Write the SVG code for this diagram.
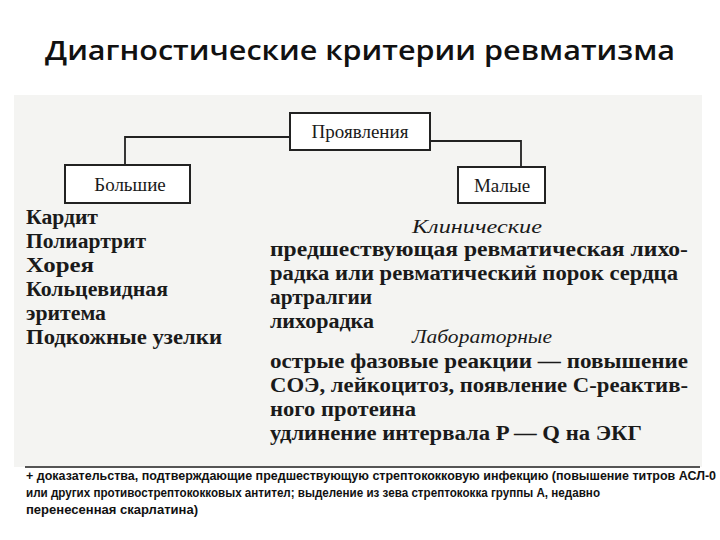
<svg xmlns="http://www.w3.org/2000/svg" width="720" height="540" viewBox="0 0 720 540">
<style>
.t{font-family:"Open Sans","DejaVu Sans",sans-serif;font-weight:600;font-size:27px;fill:#111}
.s{font-family:"Liberation Serif","DejaVu Serif",serif;fill:#1a1a1a}
.b{font-size:20px;font-weight:bold}
.m{font-size:19px}
.i{font-size:19px;font-style:italic}
.box{fill:#fff;stroke:#222;stroke-width:2}
.f{font-family:"Liberation Sans Narrow","Liberation Sans",sans-serif;font-size:12px;fill:#111;font-weight:bold}
</style>
<rect width="720" height="540" fill="#fff"/>
<rect x="14" y="95" width="688" height="372" fill="#f4f4f2"/>
<text class="t" x="45" y="60" textLength="630" lengthAdjust="spacingAndGlyphs">Диагностические критерии ревматизма</text>
<g id="connectors" fill="none" stroke="#222" stroke-width="1.8">
<polyline points="290,137 125,137 125,165"/>
<polyline points="430,141 521,141 521,167"/>
</g>
<g id="n1"><rect class="box" x="290" y="113" width="140" height="37"/><text class="s m" x="360" y="138" text-anchor="middle">Проявления</text></g>
<g id="n2"><rect class="box" x="65" y="165" width="125" height="38"/><text class="s m" x="130" y="191" text-anchor="middle">Большие</text></g>
<g id="n3"><rect class="box" x="458" y="167" width="87" height="36"/><text class="s m" x="502" y="192" text-anchor="middle">Малые</text></g>
<g class="s b">
<text x="26" y="224" textLength="72" lengthAdjust="spacingAndGlyphs">Кардит</text>
<text x="26" y="248" textLength="120" lengthAdjust="spacingAndGlyphs">Полиартрит</text>
<text x="26" y="272" textLength="68" lengthAdjust="spacingAndGlyphs">Хорея</text>
<text x="26" y="296" textLength="142" lengthAdjust="spacingAndGlyphs">Кольцевидная</text>
<text x="26" y="320" textLength="80" lengthAdjust="spacingAndGlyphs">эритема</text>
<text x="26" y="344" textLength="196" lengthAdjust="spacingAndGlyphs">Подкожные узелки</text>
<text class="i" x="412" y="233" font-weight="normal" textLength="130" lengthAdjust="spacingAndGlyphs">Клинические</text>
<text x="270" y="256" textLength="418" lengthAdjust="spacingAndGlyphs">предшествующая ревматическая лихо-</text>
<text x="270" y="280" textLength="408" lengthAdjust="spacingAndGlyphs">радка или ревматический порок сердца</text>
<text x="270" y="304" textLength="102" lengthAdjust="spacingAndGlyphs">артралгии</text>
<text x="270" y="328" textLength="104" lengthAdjust="spacingAndGlyphs">лихорадка</text>
<text class="i" x="412" y="343" font-weight="normal" textLength="140" lengthAdjust="spacingAndGlyphs">Лабораторные</text>
<text x="270" y="368" textLength="418" lengthAdjust="spacingAndGlyphs">острые фазовые реакции — повышение</text>
<text x="270" y="392" textLength="418" lengthAdjust="spacingAndGlyphs">СОЭ, лейкоцитоз, появление С-реактив-</text>
<text x="270" y="416" textLength="146" lengthAdjust="spacingAndGlyphs">ного протеина</text>
<text x="270" y="440" textLength="372" lengthAdjust="spacingAndGlyphs">удлинение интервала P — Q на ЭКГ</text>
</g>
<line x1="25" y1="467" x2="700" y2="467" stroke="#555" stroke-width="2"/>
<g class="f">
<text x="26" y="480" textLength="690" lengthAdjust="spacingAndGlyphs">+ доказательства, подтверждающие предшествующую стрептококковую инфекцию (повышение титров АСЛ-0</text>
<text x="26" y="497" textLength="574" lengthAdjust="spacingAndGlyphs">или других противострептококковых антител; выделение из зева стрептококка  группы А,  недавно</text>
<text x="26" y="514" textLength="172" lengthAdjust="spacingAndGlyphs">перенесенная  скарлатина)</text>
</g>
</svg>
